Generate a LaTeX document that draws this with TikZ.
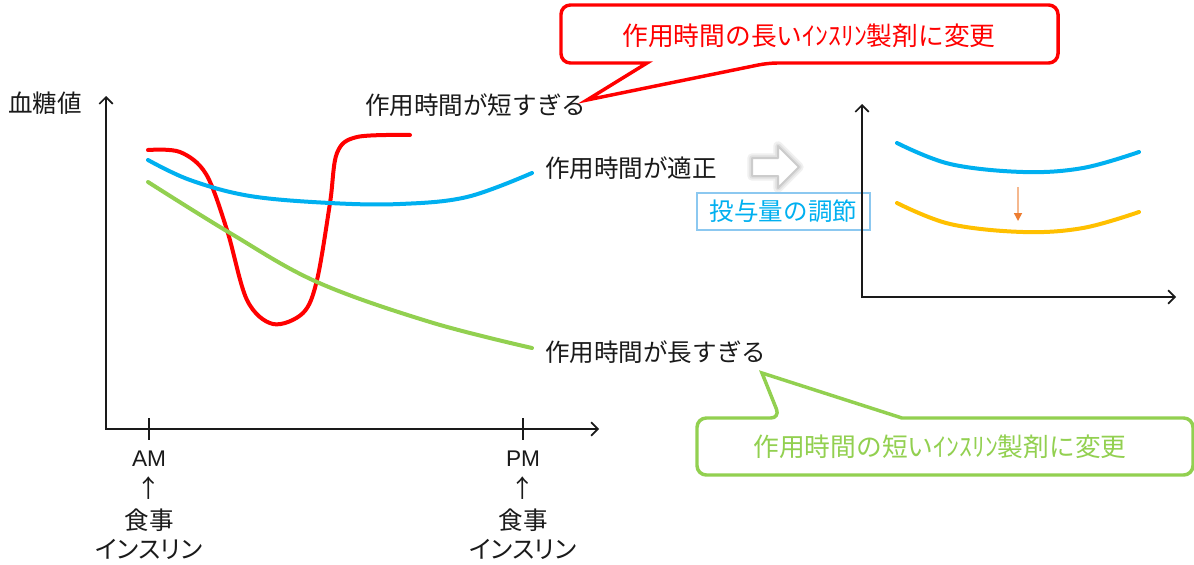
\documentclass[tikz,border=0pt]{standalone}
\usepackage{fontspec}
\setmainfont{Liberation Sans}
\newfontfamily\jp{Noto Sans CJK JP}
\newfontfamily\jpp[RawFeature=+palt]{Noto Sans CJK JP}
\usetikzlibrary{arrows.meta}
\definecolor{cred}{HTML}{FF0000}
\definecolor{cblue}{HTML}{00B0F0}
\definecolor{cgreen}{HTML}{92D050}
\definecolor{cyellow}{HTML}{FFC000}
\definecolor{corange}{HTML}{ED7D31}
\definecolor{cboxblue}{HTML}{8CC8F0}
\definecolor{ctext}{HTML}{1A1A1A}
\tikzset{
  lbl/.style={inner sep=0pt, text=ctext, font=\jp\fontsize{18.4}{22}\selectfont},
  clbl/.style={inner sep=0pt, font=\jp\fontsize{19.3}{23}\selectfont},
  axis/.style={line width=1.5pt, ctext, -{Straight Barb[length=5pt,width=10pt,line width=1.3pt]}},
  tick/.style={line width=1.3pt, ctext},
  curve/.style={line width=3pt, line cap=round},
  callout/.style={line width=2.6pt, fill=white, line join=miter},
}
\begin{document}
\begin{tikzpicture}[x=0.75pt,y=-0.75pt]
\useasboundingbox (0,0) rectangle (1194,564);
\fill[white] (0,0) rectangle (1194,564);

% ---- main chart axes
\coordinate (o) at (106,429);
\coordinate (ytop) at (106,96);
\coordinate (xend) at (599,429);
\draw[axis] (o) -- (ytop);
\draw[axis] (105,429) -- (xend);
\coordinate (amt) at (149,418);
\coordinate (amb) at (149,440);
\coordinate (pmt) at (523,418);
\coordinate (pmb) at (523,440);
\draw[tick] (amt) -- (amb);
\draw[tick] (pmt) -- (pmb);

\node[lbl] (ylab) at (45,103) {血糖値};
\node[lbl, font=\fontsize{17}{20}\selectfont] (am) at (149,459) {AM};
\node[lbl] (amarr) at (149,488) {↑};
\node[lbl] (ammeal) at (149,520) {食事};
\node[lbl, font=\jpp\fontsize{18.4}{22}\selectfont] (amins) at (149,549) {インスリン};
\node[lbl, font=\fontsize{17}{20}\selectfont] (pm) at (523,459) {PM};
\node[lbl] (pmarr) at (523,488) {↑};
\node[lbl] (pmmeal) at (523,520) {食事};
\node[lbl, font=\jpp\fontsize{18.4}{22}\selectfont] (pmins) at (523,549) {インスリン};

% ---- curves
\draw[curve, cred] plot[smooth, tension=0.55] coordinates {
  (148,150) (180,152) (206,174) (227,230) (247,300) (273,324) (303,313) (317,280) (330,203) (337,153) (357,137) (410,135)};
\draw[curve, cblue] plot[smooth, tension=0.6] coordinates {
  (148,160) (190,180) (250,196) (330,203) (400,204) (467,197) (532,173)};
\draw[curve, cgreen] plot[smooth, tension=0.6] coordinates {
  (148,182) (230,233) (317,282) (430,322) (532,348)};

% ---- curve labels
\node[lbl, anchor=west] (short) at (365,105) {作用時間が短すぎる};
\node[lbl, anchor=west] (fit) at (545,168) {作用時間が適正};
\node[lbl, anchor=west] (long) at (545,352) {作用時間が長すぎる};

% ---- red callout
\coordinate (rtip) at (587,100);
\draw[callout, draw=cred, rounded corners=7] (800,5) -- (1058,5) -- (1058,63) -- (768,63) [sharp corners] -- (rtip) -- (647,63) [rounded corners=7] -- (561,63) -- (561,5) -- cycle;
\node[clbl, text=cred] (redtext) at (809,36) {作用時間の長いｲﾝｽﾘﾝ製剤に変更};

% ---- green callout
\coordinate (gtip) at (762,373);
\draw[callout, draw=cgreen, rounded corners=7] (1000,475) -- (697,475) -- (697,418) -- (780,418) [sharp corners] -- (gtip) -- (902,418) [rounded corners=7] -- (1193,418) -- (1193,475) -- cycle;
\node[clbl, text=cgreen] (greentext) at (940,447) {作用時間の短いｲﾝｽﾘﾝ製剤に変更};

% ---- white arrow with soft shadow
\def\arrowpath{(752,158) -- (778,158) -- (778,146) -- (799,167) -- (778,188) -- (778,176) -- (752,176) -- cycle}
\draw[line width=7pt, black!6, line join=round] \arrowpath;
\draw[line width=4pt, black!12, line join=round] \arrowpath;
\draw[line width=1.5pt, black!20, line join=round, fill=white] \arrowpath;

% ---- blue box
\node[draw=cboxblue, line width=0.9pt, fill=white, minimum width=173*0.75pt, minimum height=37*0.75pt, inner sep=0pt, text=cblue, font=\jp\fontsize{18.4}{22}\selectfont] (dose) at (783.5,211.5) {投与量の調節};

% ---- right chart
\coordinate (o2) at (862,297);
\draw[axis] (862,298) -- (862,104);
\draw[axis] (861,297) -- (1176,297);
\draw[curve, cblue] plot[smooth, tension=0.6] coordinates {
  (897,143) (950,164) (1023,172) (1083,168) (1139,152)};
\draw[curve, cyellow] plot[smooth, tension=0.6] coordinates {
  (897,203) (950,224) (1023,232) (1083,228) (1139,212)};
\coordinate (da) at (1018,187);
\coordinate (db) at (1018,221);
\draw[line width=1.2pt, corange!55, -{Triangle[length=6pt,width=6pt,fill=corange,color=corange]}] (da) -- (db);
\end{tikzpicture}
\end{document}
